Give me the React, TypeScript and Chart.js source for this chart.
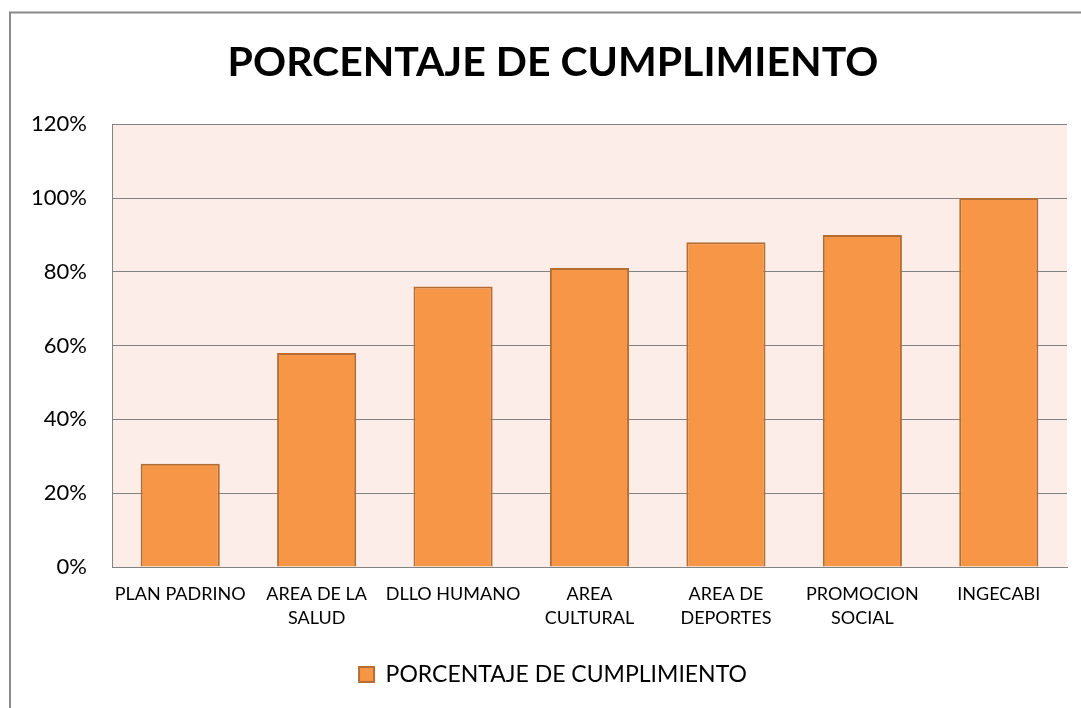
import React, { useEffect, useRef } from "react";
import { Chart, registerables } from "chart.js";

Chart.register(...registerables);

const categories: string[][] = [
  ["PLAN PADRINO"],
  ["AREA DE LA", "SALUD"],
  ["DLLO HUMANO"],
  ["AREA", "CULTURAL"],
  ["AREA DE", "DEPORTES"],
  ["PROMOCION", "SOCIAL"],
  ["INGECABI"],
];
const seriesName = "PORCENTAJE DE CUMPLIMIENTO";
const values: number[] = [0.28, 0.58, 0.76, 0.81, 0.88, 0.9, 1.0];
const titleText = "PORCENTAJE DE CUMPLIMIENTO";
const yMax = 1.2;
const yStep = 0.2;

const FONT = "Lato, 'Noto Sans', sans-serif";

const bgPlugin = {
  id: "bgPlugin",
  beforeDraw(chart: any) {
    const { ctx, chartArea } = chart;
    ctx.save();
    ctx.fillStyle = "#ffffff";
    ctx.fillRect(0, 0, chart.width, chart.height);
    ctx.strokeStyle = "#8a8a8a";
    ctx.lineWidth = 2;
    ctx.beginPath();
    ctx.moveTo(10, chart.height + 5);
    ctx.lineTo(10, 12.5);
    ctx.lineTo(chart.width + 5, 12.5);
    ctx.stroke();
    ctx.fillStyle = "#FCEDE9";
    ctx.fillRect(chartArea.left, chartArea.top, chartArea.right - chartArea.left, chartArea.bottom - chartArea.top);
    ctx.restore();
  },
};

export default function App() {
  const ref = useRef<HTMLCanvasElement | null>(null);
  useEffect(() => {
    document.body.style.margin = "0";
    const canvas = ref.current!;
    const chart = new Chart(canvas, {
      type: "bar",
      data: {
        labels: categories,
        datasets: [
          {
            label: seriesName,
            data: values,
            backgroundColor: "#F79646",
            borderColor: "#B66D31",
            borderWidth: 2,
            barPercentage: 0.58,
            categoryPercentage: 1,
          },
        ],
      },
      options: {
        responsive: false,
        animation: false,
        devicePixelRatio: 1,
        layout: { padding: { left: 39, right: 14, top: 0, bottom: 12 } },
        plugins: {
          title: {
            display: true,
            text: titleText,
            color: "#000000",
            font: { family: FONT, size: 41, weight: "bold", lineHeight: 1.2 },
            padding: { top: 38, bottom: 37 },
          },
          legend: {
            position: "bottom",
            labels: {
              color: "#000000",
              font: { family: FONT, size: 23 },
              boxWidth: 15,
              boxHeight: 15,
              padding: 10,
            },
          },
          tooltip: { enabled: false },
        },
        scales: {
          x: {
            grid: { display: false },
            border: { display: true, color: "#828282", width: 1 },
            ticks: {
              color: "#000000",
              font: { family: FONT, size: 18, lineHeight: 1.33 },
              padding: 7,
              maxRotation: 0,
              autoSkip: false,
            },
            afterFit(scale: any) {
              scale.height = 86;
            },
          },
          y: {
            min: 0,
            max: yMax,
            grid: { color: "#828282", lineWidth: 1, drawTicks: false },
            border: { display: true, color: "#828282", width: 1 },
            ticks: {
              stepSize: yStep,
              color: "#000000",
              font: { family: FONT, size: 22 },
              padding: 25,
              callback: (v: any) => Math.round(Number(v) * 100) + "%",
            },
            afterFit(scale: any) {
              scale.width = 73;
              scale._computeLabelArea = () => undefined;
            },
          },
        },
      },
      plugins: [bgPlugin],
    } as any);
    return () => chart.destroy();
  }, []);
  return <canvas ref={ref} width={1081} height={708} style={{ display: "block" }} />;
}
